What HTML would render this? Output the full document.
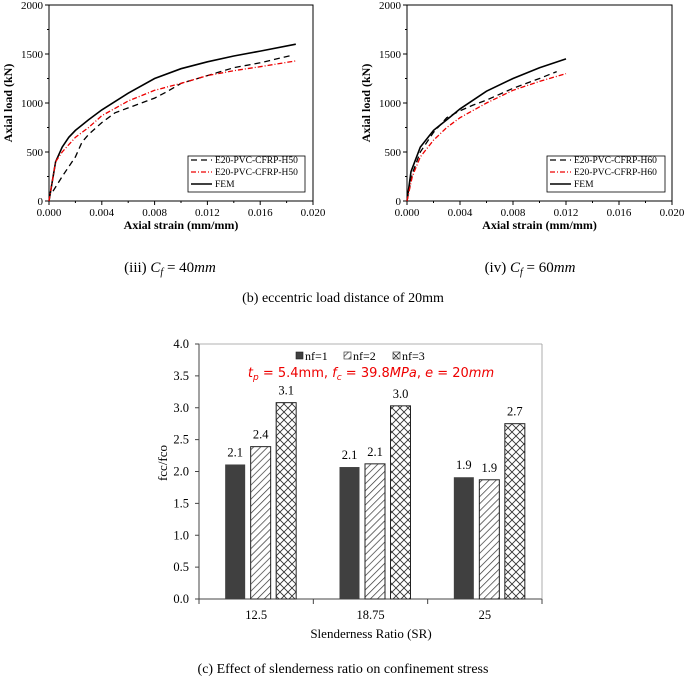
<!DOCTYPE html>
<html><head><meta charset="utf-8"><style>
body{margin:0;background:#fff;width:685px;height:681px;overflow:hidden}
svg{display:block;font-family:"Liberation Serif",serif}
</style></head><body>
<svg id="s" width="685" height="681" xmlns="http://www.w3.org/2000/svg">
<defs>
<pattern id="diag" width="5" height="5" patternUnits="userSpaceOnUse" patternTransform="rotate(45)"><rect width="5" height="5" fill="#fff"/><line x1="0" y1="0" x2="0" y2="5" stroke="#333" stroke-width="1.4"/></pattern>
<pattern id="cross" width="8" height="8" patternUnits="userSpaceOnUse"><rect width="8" height="8" fill="#fff"/><path d="M0 0L8 8M8 0L0 8" stroke="#333" stroke-width="0.9"/></pattern>
</defs>
<g id="c1"></g><g id="c2"></g><g id="c3"></g>
<text x="170" y="272" font-size="15" text-anchor="middle">(iii) <tspan font-style="italic">C</tspan><tspan font-style="italic" font-size="10" dy="3">f</tspan><tspan dy="-3"> = 40</tspan><tspan font-style="italic">mm</tspan></text>
<text x="530" y="272" font-size="15" text-anchor="middle">(iv) <tspan font-style="italic">C</tspan><tspan font-style="italic" font-size="10" dy="3">f</tspan><tspan dy="-3"> = 60</tspan><tspan font-style="italic">mm</tspan></text>
<text x="343" y="302" font-size="14" text-anchor="middle">(b) eccentric load distance of 20mm</text>
<text x="343" y="673" font-size="14" text-anchor="middle">(c) Effect of slenderness ratio on confinement stress</text>
</svg>
<script>
const xTicks=["0.000","0.004","0.008","0.012","0.016","0.020"];
const yTicks=["0","500","1000","1500","2000"];
const a_fem_x=[0,0.0005,0.001,0.0015,0.002,0.003,0.004,0.006,0.008,0.010,0.012,0.014,0.016,0.0187];
const a_fem_y=[0,400,550,650,720,830,930,1100,1250,1350,1420,1480,1530,1600];
const a_exp_x=[0.0003,0.001,0.002,0.0025,0.003,0.004,0.005,0.006,0.008,0.009,0.010,0.012,0.014,0.016,0.0185];
const a_exp_y=[100,250,450,600,680,800,900,950,1050,1120,1200,1280,1360,1410,1490];
const a_red_x=[0,0.0005,0.001,0.002,0.003,0.004,0.006,0.008,0.010,0.012,0.014,0.016,0.0187];
const a_red_y=[0,400,500,650,750,870,1020,1130,1200,1280,1330,1370,1430];
const b_fem_x=[0,0.0003,0.001,0.002,0.003,0.004,0.006,0.008,0.010,0.012];
const b_fem_y=[0,300,550,720,830,940,1120,1250,1360,1450];
const b_exp_x=[0,0.0004,0.001,0.002,0.003,0.004,0.005,0.006,0.008,0.010,0.0113];
const b_exp_y=[0,280,500,700,850,920,980,1030,1150,1250,1320];
const b_red_x=[0,0.0004,0.001,0.002,0.003,0.004,0.006,0.008,0.010,0.012];
const b_red_y=[0,250,450,620,750,850,1000,1130,1220,1300];
const categories=["12.5","18.75","25"];
const nf1=[2.11,2.07,1.91];
const nf2=[2.39,2.12,1.87];
const nf3=[3.08,3.03,2.75];
const nf1Labels=["2.1","2.1","1.9"];
const nf2Labels=["2.4","2.1","1.9"];
const nf3Labels=["3.1","3.0","2.7"];
const barTicks=["0.0","0.5","1.0","1.5","2.0","2.5","3.0","3.5","4.0"];
const NS="http://www.w3.org/2000/svg";
function mk(p,t,at,txt){const e=document.createElementNS(NS,t);for(const k in at)e.setAttribute(k,at[k]);if(txt!==undefined)e.textContent=txt;p.appendChild(e);return e;}
function lineChart(g,x0,x1,y0,y1,series,leg,name){
 const sx=v=>x0+(v/0.02)*(x1-x0), sy=v=>y0-(v/2000)*(y0-y1);
 const fr=mk(g,'rect',{x:x0,y:y1,width:x1-x0,height:y0-y1,fill:'none',stroke:'#000','stroke-width':1});
 
 xTicks.forEach(t=>{const x=sx(parseFloat(t));mk(g,'line',{x1:x,x2:x,y1:y0,y2:y0+4,stroke:'#000'});
  const tx=mk(g,'text',{x:x,y:y0+15,'font-size':11,'text-anchor':'middle'},t);});
 for(let i=1;i<10;i+=2){const x=x0+i*(x1-x0)/10;mk(g,'line',{x1:x,x2:x,y1:y0,y2:y0+2,stroke:'#000'});}
 yTicks.forEach(t=>{const y=sy(+t);mk(g,'line',{x1:x0,x2:x0-4,y1:y,y2:y,stroke:'#000'});
  const tx=mk(g,'text',{x:x0-6,y:y+4,'font-size':11,'text-anchor':'end'},t);});
 for(let i=1;i<8;i+=2){const y=y0-i*(y0-y1)/8;mk(g,'line',{x1:x0,x2:x0-2,y1:y,y2:y,stroke:'#000'});}
 const xl=mk(g,'text',{x:(x0+x1)/2,y:229,'font-size':12,'font-weight':'bold','text-anchor':'middle'},'Axial strain (mm/mm)');
 
 const yl=mk(g,'text',{x:0,y:0,'font-size':12,'font-weight':'bold','text-anchor':'middle',transform:`translate(${x0-37},${(y0+y1)/2}) rotate(-90)`},'Axial load (kN)');
 
 series.forEach(s=>{const d=s.x.map((v,i)=>(i?'L':'M')+sx(v).toFixed(1)+' '+sy(s.y[i]).toFixed(1)).join('');
  const p=mk(g,'path',{d:d,fill:'none',stroke:s.c,'stroke-width':s.w,'stroke-dasharray':s.da});
  });
 const lb=mk(g,'rect',{x:leg[0],y:156,width:leg[1],height:36,fill:'#fff',stroke:'#000','stroke-width':0.8});
 
 series.forEach((s,i)=>{const y=[187,163,175][i];mk(g,'line',{x1:leg[0]+3,x2:leg[0]+24,y1:y-3,y2:y-3,stroke:s.c,'stroke-width':s.w,'stroke-dasharray':s.da});
  const t=mk(g,'text',{x:leg[0]+27,y:y,'font-size':9.5},s.label);});
}
lineChart(document.getElementById('c1'),49,313,201,5,[
 {x:a_fem_x,y:a_fem_y,c:'#000',w:1.6,da:'',n:'fem-line',label:'FEM'},
 {x:a_exp_x,y:a_exp_y,c:'#000',w:1.3,da:'6 4',n:'exp-line-black',label:'E20-PVC-CFRP-H50'},
 {x:a_red_x,y:a_red_y,c:'#e00',w:1.3,da:'5 2 1 2',n:'exp-line-red',label:'E20-PVC-CFRP-H50'}],[188,117],'chart-iii');
lineChart(document.getElementById('c2'),407,672,201,5,[
 {x:b_fem_x,y:b_fem_y,c:'#000',w:1.6,da:'',n:'fem-line',label:'FEM'},
 {x:b_exp_x,y:b_exp_y,c:'#000',w:1.3,da:'6 4',n:'exp-line-black',label:'E20-PVC-CFRP-H60'},
 {x:b_red_x,y:b_red_y,c:'#e00',w:1.3,da:'5 2 1 2',n:'exp-line-red',label:'E20-PVC-CFRP-H60'}],[547,118],'chart-iv');
(function(){
 const g=document.getElementById('c3'),x0=199,x1=542,y0=599,y1=344;
 const sy=v=>y0-v/4*(y0-y1), gw=(x1-x0)/3;
 mk(g,'line',{x1:x0,x2:x0,y1:y1,y2:y0,stroke:'#444'});
 mk(g,'line',{x1:x0,x2:x1,y1:y0,y2:y0,stroke:'#444'});
 mk(g,'line',{x1:x0,x2:x1,y1:y1,y2:y1,stroke:'#999','stroke-width':0.8});
 mk(g,'line',{x1:x1,x2:x1,y1:y1,y2:y0,stroke:'#999','stroke-width':0.8});
 for(let i=0;i<=3;i++)mk(g,'line',{x1:x0+i*gw,x2:x0+i*gw,y1:y0,y2:y0+5,stroke:'#444'});
 barTicks.forEach(t=>{const y=sy(+t);mk(g,'line',{x1:x0-4,x2:x0,y1:y,y2:y,stroke:'#444'});
  const tx=mk(g,'text',{x:x0-10,y:y+4,'font-size':12.5,'text-anchor':'end'},t);});
 categories.forEach((c,i)=>{const cx=x0+gw*(i+0.5);
  const t=mk(g,'text',{x:cx,y:y0+20,'font-size':12.5,'text-anchor':'middle'},c);
  [[nf1,nf1Labels,'#404040','nf1'],[nf2,nf2Labels,'url(#diag)','nf2'],[nf3,nf3Labels,'url(#cross)','nf3']].forEach((s,j)=>{
   const bx=cx-31+j*25.5,v=s[0][i];
   const r=mk(g,'rect',{x:bx,y:sy(v),width:20,height:y0-sy(v),fill:s[2],stroke:j?'#222':'none','stroke-width':1});
   
   const l=mk(g,'text',{x:bx+10,y:sy(v)-8,'font-size':12.5,'text-anchor':'middle'},s[1][i]);
  });});
 const yl=mk(g,'text',{x:0,y:0,'font-size':13,'text-anchor':'middle',transform:`translate(167,463) rotate(-90)`},'fcc/fco');
 
 const xl=mk(g,'text',{x:371,y:638,'font-size':13,'text-anchor':'middle'},'Slenderness Ratio (SR)');
 
 [['#404040',296,'nf=1'],['url(#diag)',344,'nf=2'],['url(#cross)',393,'nf=3']].forEach(e=>{
  const r=mk(g,'rect',{x:e[1],y:352,width:7,height:7,fill:e[0],stroke:'#222','stroke-width':0.6});
  const t=mk(g,'text',{x:e[1]+9,y:360,'font-size':12},e[2]);});
 const an=mk(g,'text',{x:371,y:377,'font-size':13,fill:'#e00','text-anchor':'middle','font-family':'DejaVu Sans, sans-serif','font-style':'italic'},'');
 
 an.innerHTML='t<tspan font-size="9" dy="3">p</tspan><tspan dy="-3" font-style="normal"> = 5.4mm, </tspan>f<tspan font-size="9" dy="3">c</tspan><tspan dy="-3" font-style="normal"> = 39.8</tspan>MPa<tspan font-style="normal">, </tspan>e<tspan font-style="normal"> = 20</tspan>mm';
})();
</script>
</body></html>
